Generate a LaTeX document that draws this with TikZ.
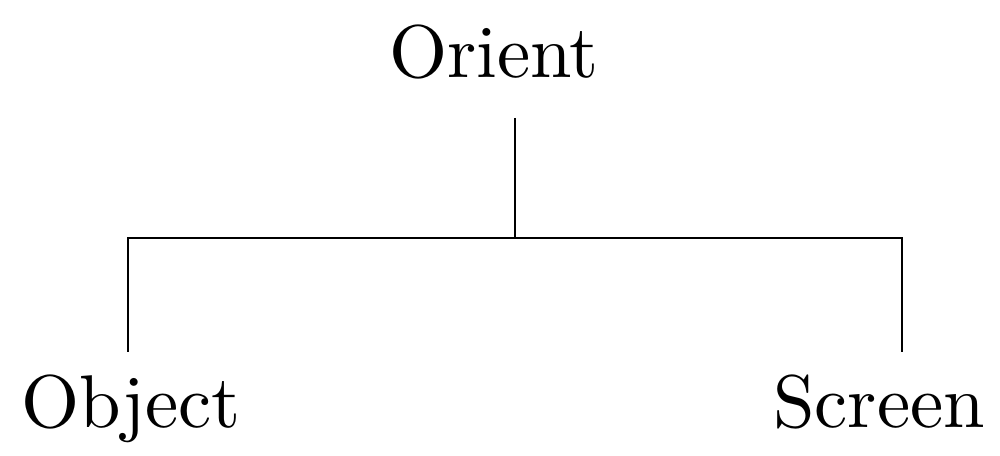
\documentclass[tikz,border=0pt]{standalone}
\usepackage{tikz}
\usetikzlibrary{positioning}

\begin{document}
\begin{tikzpicture}[x=1cm,y=1cm]
  \tikzset{label/.style={anchor=base,inner sep=0pt,scale=4.25},
           branch/.style={line width=1.1pt,black}}
  \useasboundingbox (0,0) rectangle (20,9.12);
  \node[label] (orient) at (9.88,7.56) {Orient};
  \node[label] (object) at (2.62,0.56) {Object};
  \node[label] (screen) at (17.58,0.56) {Screen};
  \coordinate (stem) at (10.3,6.76);
  \coordinate (fork) at (10.3,4.36);
  \coordinate (leftend) at (2.56,4.36);
  \coordinate (rightend) at (18.04,4.36);
  \coordinate (leftfoot) at (2.56,2.08);
  \coordinate (rightfoot) at (18.04,2.08);
  \draw[branch] (stem) -- (fork);
  \draw[branch] (leftfoot) -- (leftend) -- (rightend) -- (rightfoot);
\end{tikzpicture}
\end{document}
